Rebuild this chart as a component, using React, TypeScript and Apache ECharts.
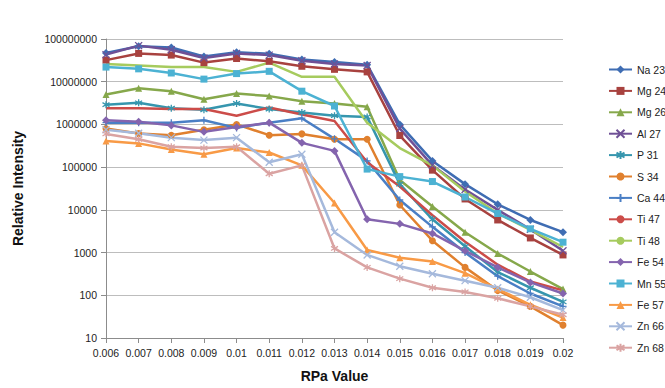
import React, { useEffect, useRef } from "react";
import * as echarts from "echarts";

const categories = ["0.006", "0.007", "0.008", "0.009", "0.01", "0.011", "0.012", "0.013", "0.014", "0.015", "0.016", "0.017", "0.018", "0.019", "0.02"];

const na23 = [4.7e7, 6.8e7, 6.3e7, 3.9e7, 4.9e7, 4.5e7, 3.3e7, 2.9e7, 2.5e7, 1.0e6, 1.4e5, 4.0e4, 1.35e4, 5.8e3, 3.0e3];
const mg24 = [3.2e7, 4.6e7, 4.2e7, 2.8e7, 3.5e7, 3.0e7, 2.3e7, 1.95e7, 1.7e7, 5.5e5, 8.5e4, 1.8e4, 5.8e3, 2.2e3, 880];
const mg26 = [5.0e6, 7.0e6, 6.0e6, 3.9e6, 5.3e6, 4.6e6, 3.5e6, 3.1e6, 2.6e6, 5.0e4, 1.2e4, 3.0e3, 950, 360, 140];
const al27 = [4.3e7, 7.0e7, 5.6e7, 3.6e7, 4.6e7, 4.2e7, 3.1e7, 2.6e7, 2.4e7, 8.0e5, 1.1e5, 3.0e4, 1.0e4, 3.5e3, 1.1e3];
const p31 = [2.9e6, 3.2e6, 2.4e6, 2.2e6, 3.1e6, 2.3e6, 1.9e6, 1.6e6, 1.5e6, 4.0e4, 6.0e3, 1.4e3, 350, 150, 70];
const s34 = [8.0e5, 6.1e5, 5.6e5, 7.5e5, 1.0e6, 5.6e5, 6.0e5, 4.5e5, 4.5e5, 1.3e4, 1.9e3, 450, 130, 55, 20];
const ca44 = [1.1e6, 1.1e6, 1.1e6, 1.25e6, 8.3e5, 1.1e6, 1.4e6, 4.6e5, 1.4e5, 1.7e4, 4.0e3, 1.0e3, 280, 110, 55];
const ti47 = [2.4e6, 2.4e6, 2.3e6, 2.3e6, 1.6e6, 2.5e6, 1.7e6, 1.2e6, 1.3e5, 3.5e4, 7.5e3, 1.8e3, 520, 210, 130];
const ti48 = [2.6e7, 2.4e7, 2.2e7, 2.2e7, 1.7e7, 2.8e7, 1.3e7, 1.3e7, 1.1e6, 2.8e5, 1.1e5, 2.7e4, 8.2e3, 3.4e3, 1.35e3];
const fe54 = [1.25e6, 1.15e6, 9.5e5, 6.7e5, 8.7e5, 1.1e6, 3.7e5, 2.4e5, 6.0e3, 4.7e3, 2.8e3, 1.1e3, 450, 200, 110];
const mn55 = [2.2e7, 2.0e7, 1.6e7, 1.15e7, 1.55e7, 1.75e7, 6.0e6, 2.7e6, 9.0e4, 6.0e4, 4.6e4, 2.0e4, 8.2e3, 3.6e3, 1.75e3];
const fe57 = [4.1e5, 3.6e5, 2.6e5, 2.0e5, 2.8e5, 2.2e5, 1.1e5, 1.45e4, 1.15e3, 760, 620, 330, 140, 60, 30];
const zn66 = [7.5e5, 6.2e5, 4.9e5, 4.3e5, 4.9e5, 1.3e5, 2.0e5, 3.0e3, 880, 480, 320, 220, 150, 90, 45];
const zn68 = [6.0e5, 4.5e5, 3.0e5, 2.8e5, 3.0e5, 7.0e4, 1.1e5, 1.25e3, 450, 245, 150, 120, 85, 55, 35];

const X_SYM = "path://M0,0L10,10M10,0L0,10";
const STAR_SYM = "path://M5,0L5,10M0,2L10,8M10,2L0,8";
const PLUS_SYM = "path://M5,0L5,10M0,5L10,5";

const seriesDefs = [
  { name: "Na 23", data: na23, color: "#3F6DB3", symbol: "diamond", stroke: false },
  { name: "Mg 24", data: mg24, color: "#A8423F", symbol: "rect", stroke: false },
  { name: "Mg 26", data: mg26, color: "#86A84B", symbol: "triangle", stroke: false },
  { name: "Al 27", data: al27, color: "#6F5096", symbol: X_SYM, stroke: true },
  { name: "P 31", data: p31, color: "#3696AE", symbol: STAR_SYM, stroke: true },
  { name: "S 34", data: s34, color: "#E0802E", symbol: "circle", stroke: false },
  { name: "Ca 44", data: ca44, color: "#4A7FC5", symbol: PLUS_SYM, stroke: true },
  { name: "Ti 47", data: ti47, color: "#CC4C49", symbol: "none", stroke: false },
  { name: "Ti 48", data: ti48, color: "#A6CB5E", symbol: "none", stroke: false },
  { name: "Fe 54", data: fe54, color: "#8464AE", symbol: "diamond", stroke: false },
  { name: "Mn 55", data: mn55, color: "#4CB2D3", symbol: "rect", stroke: false },
  { name: "Fe 57", data: fe57, color: "#F89A46", symbol: "triangle", stroke: false },
  { name: "Zn 66", data: zn66, color: "#A5B9DC", symbol: X_SYM, stroke: true },
  { name: "Zn 68", data: zn68, color: "#DAA3A2", symbol: STAR_SYM, stroke: true },
];

const FONT = "Liberation Sans, Arial, sans-serif";

export default function App() {
  const ref = useRef<HTMLDivElement>(null);
  useEffect(() => {
    if (!ref.current) return;
    const chart = echarts.init(ref.current, null, { renderer: "svg" });
    chart.setOption({
      animation: false,
      backgroundColor: "#ffffff",
      textStyle: { fontFamily: FONT },
      grid: { left: 106, right: 102, top: 39, bottom: 43, containLabel: false },
      legend: {
        orient: "vertical",
        left: 603,
        top: 59,
        itemWidth: 23,
        itemHeight: 10,
        itemGap: 10.4,
        textStyle: { fontSize: 10.5, color: "#222", fontFamily: FONT },
        data: seriesDefs.map((s) => s.name),
      },
      xAxis: {
        type: "category",
        data: categories,
        boundaryGap: false,
        name: "RPa Value",
        nameLocation: "middle",
        nameGap: 31,
        nameTextStyle: { fontSize: 14, fontWeight: "bold", color: "#111", fontFamily: FONT },
        axisLine: { lineStyle: { color: "#8c8c8c", width: 1 } },
        axisTick: { show: true, alignWithLabel: true, interval: 0, length: 5, lineStyle: { color: "#8c8c8c" } },
        axisLabel: { fontSize: 10.5, color: "#222", margin: 9, interval: 0 },
        splitLine: { show: false },
      },
      yAxis: {
        type: "log",
        logBase: 10,
        min: 10,
        max: 100000000,
        name: "Relative Intensity",
        nameLocation: "middle",
        nameGap: 81,
        nameRotate: 90,
        nameTextStyle: { fontSize: 14, fontWeight: "bold", color: "#111", fontFamily: FONT },
        axisLine: { show: true, lineStyle: { color: "#8c8c8c", width: 1 } },
        axisTick: { show: true, length: 5, lineStyle: { color: "#8c8c8c" } },
        axisLabel: {
          fontSize: 10.5,
          color: "#222",
          margin: 9,
          formatter: (v: number) => String(Math.round(v)),
        },
        splitLine: { show: true, lineStyle: { color: "#bdbdbd", width: 1 } },
      },
      series: seriesDefs.map((s) => ({
        name: s.name,
        type: "line",
        data: s.data,
        symbol: s.symbol,
        symbolSize: s.stroke ? 7 : s.symbol === "diamond" ? 8 : 7,
        showSymbol: s.symbol !== "none",
        lineStyle: { color: s.color, width: 2.5 },
        itemStyle: s.stroke
          ? { color: s.color, borderColor: s.color, borderWidth: 1.3 }
          : { color: s.color, borderColor: s.color, borderWidth: 0 },
        emphasis: { disabled: true },
      })),
    });
    return () => chart.dispose();
  }, []);
  return (
    <div
      ref={ref}
      style={{ position: "absolute", left: 0, top: 0, width: 665, height: 388 }}
    />
  );
}
